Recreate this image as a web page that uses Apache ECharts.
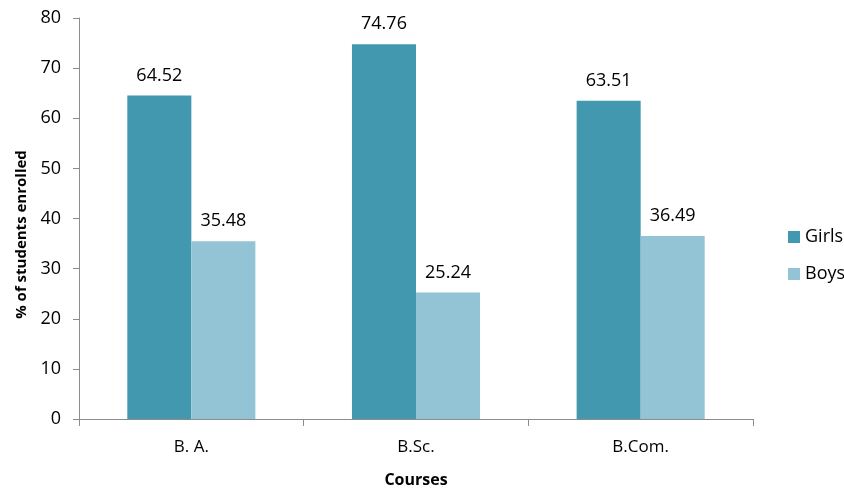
<!DOCTYPE html>
<html>
<head>
<meta charset="utf-8">
<script src="https://cdn.jsdelivr.net/npm/echarts@6/dist/echarts.min.js"></script>
<style>html,body{margin:0;padding:0;background:#fff}#c{width:844px;height:490px}</style>
</head>
<body>
<div id="c"></div>
<script>
var categories = ['B. A.', 'B.Sc.', 'B.Com.'];
var girls = [64.52, 74.76, 63.51];
var boys = [35.48, 25.24, 36.49];
var yTicks = {min: 0, max: 80, interval: 10};

var FONT = 'Open Sans';
var chart = echarts.init(document.getElementById('c'), null, {renderer: 'canvas'});
chart.setOption({
  animation: false,
  backgroundColor: '#ffffff',
  textStyle: {fontFamily: FONT},
  grid: {left: 79, right: 91, top: 18, bottom: 71, containLabel: false, outerBoundsMode: 'none'},
  legend: {
    orient: 'vertical',
    left: 783, top: 223,
    itemWidth: 12, itemHeight: 12, itemGap: 19,
    icon: 'rect',
    textStyle: {fontFamily: FONT, fontSize: 18, color: '#000'},
    data: ['Girls', 'Boys']
  },
  xAxis: {
    type: 'category',
    data: categories,
    name: 'Courses',
    nameLocation: 'middle',
    nameGap: 53,
    nameTextStyle: {fontFamily: FONT, fontSize: 16, fontWeight: 'bold', color: '#000'},
    axisLine: {lineStyle: {color: '#8c8c8c', width: 1}},
    axisTick: {show: true, length: 7, lineStyle: {color: '#8c8c8c'}},
    axisLabel: {fontFamily: FONT, fontSize: 17, color: '#000', margin: 20}
  },
  yAxis: {
    type: 'value',
    min: yTicks.min, max: yTicks.max, interval: yTicks.interval,
    name: '% of students enrolled',
    nameLocation: 'middle',
    nameGap: 50,
    nameTextStyle: {fontFamily: FONT, fontSize: 15, fontWeight: 'bold', color: '#000', padding: [0, 32, 0, 0]},
    splitLine: {show: false},
    axisLine: {show: true, lineStyle: {color: '#8c8c8c', width: 1}},
    axisTick: {show: true, length: 6, lineStyle: {color: '#8c8c8c'}},
    axisLabel: {fontFamily: FONT, fontSize: 18, color: '#000', margin: 18}
  },
  series: [
    {
      name: 'Girls', type: 'bar', data: girls,
      barGap: '0%', barCategoryGap: '43%',
      itemStyle: {color: '#4198AF'},
      label: {show: true, position: 'top', distance: 11, fontFamily: FONT, fontSize: 18, color: '#000'}
    },
    {
      name: 'Boys', type: 'bar', data: boys,
      barGap: '0%', barCategoryGap: '43%',
      itemStyle: {color: '#93C4D5'},
      label: {show: true, position: 'top', distance: 11, fontFamily: FONT, fontSize: 18, color: '#000'}
    }
  ]
});
</script>
</body>
</html>
